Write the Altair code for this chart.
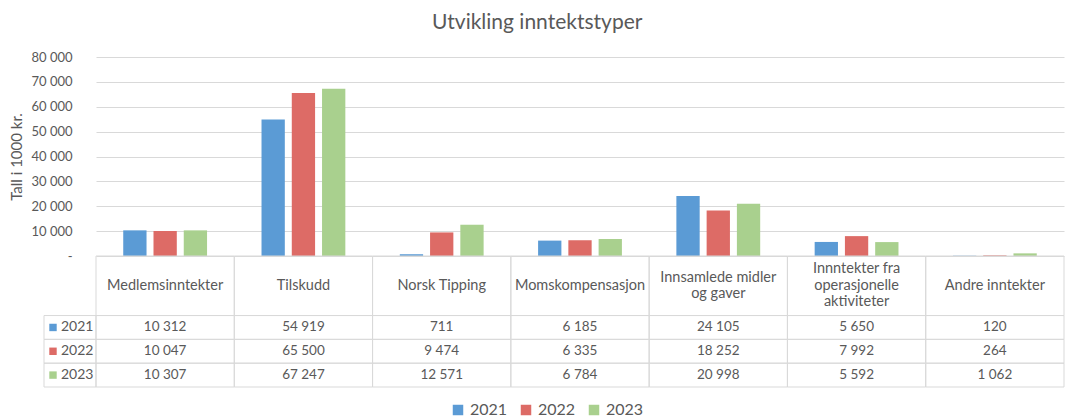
import altair as alt
import pandas as pd

categories = [
    "Medlemsinntekter",
    "Tilskudd",
    "Norsk Tipping",
    "Momskompensasjon",
    "Innsamlede midler\nog gaver",
    "Innntekter fra\noperasjonelle\naktiviteter",
    "Andre inntekter",
]
years = ["2021", "2022", "2023"]
v2021 = [10312, 54919, 711, 6185, 24105, 5650, 120]
v2022 = [10047, 65500, 9474, 6335, 18252, 7992, 264]
v2023 = [10307, 67247, 12571, 6784, 20998, 5592, 1062]
colors = ["#5B9BD5", "#DD6B66", "#A9D08E"]

y_ticks = [0, 10000, 20000, 30000, 40000, 50000, 60000, 70000, 80000]

W = 968
BAR_H = 199
TAB_H = 131
HEADER_UNITS = 2.5
TOTAL_UNITS = HEADER_UNITS + len(years)
LINE_H = 16.5
UNIT_PX = TAB_H / TOTAL_UNITS

series = {"2021": v2021, "2022": v2022, "2023": v2023}

rows = []
for yi, yr in enumerate(years):
    for ci, cat in enumerate(categories):
        rows.append({
            "cat": cat,
            "year": yr,
            "value": series[yr][ci],
            "r0": HEADER_UNITS + yi,
            "r1": HEADER_UNITS + yi + 1,
            "rmid": HEADER_UNITS + yi + 0.5,
        })
df = pd.DataFrame(rows)

# header cells; multi-line labels are shifted up so the block is centred
df_head = pd.DataFrame({
    "cat": categories,
    "r0": [0.0] * len(categories),
    "r1": [HEADER_UNITS] * len(categories),
    "rtxt": [HEADER_UNITS / 2 - (c.count("\n") / 2) * LINE_H / UNIT_PX
             for c in categories],
})
df_years = pd.DataFrame({
    "year": years,
    "r0": [HEADER_UNITS + i for i in range(len(years))],
    "r1": [HEADER_UNITS + i + 1 for i in range(len(years))],
    "rmid": [HEADER_UNITS + i + 0.5 for i in range(len(years))],
})

FONT = "Lato"
TXT = "#595959"
GRID = "#D9D9D9"

xenc = alt.X("cat:N", sort=categories,
             scale=alt.Scale(paddingInner=0, paddingOuter=0), axis=None)
color_scale = alt.Scale(domain=years, range=colors)
tscale = alt.Scale(domain=[0, TOTAL_UNITS], range=[BAR_H, BAR_H + TAB_H])

bars = alt.Chart(df).mark_bar().encode(
    x=xenc,
    xOffset=alt.XOffset("year:N", sort=years,
                        scale=alt.Scale(paddingInner=0.23, paddingOuter=0.9)),
    y=alt.Y("value:Q",
            scale=alt.Scale(domain=[0, 80000], range=[BAR_H, 0]),
            axis=alt.Axis(
                values=y_ticks,
                title="Tall i 1000 kr.",
                titleFont=FONT, titleFontSize=15, titleFontWeight="normal",
                titleColor=TXT, titlePadding=6,
                labelFont=FONT, labelFontSize=13, labelColor=TXT,
                labelPadding=24,
                labelExpr="datum.value == 0 ? '-' : replace(format(datum.value, ','), ',', ' ')",
                ticks=False, domain=False,
                grid=True, gridColor=GRID, gridWidth=1,
            )),
    color=alt.Color("year:N", scale=color_scale,
                    legend=alt.Legend(
                        title=None, orient="none", direction="horizontal",
                        legendX=W / 2 - 130, legendY=BAR_H + TAB_H + 15,
                        symbolType="square", symbolSize=110,
                        symbolStrokeWidth=0,
                        labelFont=FONT, labelFontSize=16, labelColor=TXT,
                        columnPadding=10, labelOffset=4)),
)

cells = alt.Chart(df).mark_rect(fill="transparent", stroke=GRID, strokeWidth=1).encode(
    x=xenc,
    y=alt.Y("r0:Q", scale=tscale, axis=None),
    y2="r1:Q",
)
head_cells = alt.Chart(df_head).mark_rect(fill="transparent", stroke=GRID, strokeWidth=1).encode(
    x=xenc,
    y=alt.Y("r0:Q", scale=tscale, axis=None),
    y2="r1:Q",
)
year_cells = alt.Chart(df_years).mark_rect(fill="transparent", stroke=GRID, strokeWidth=1).encode(
    x=alt.value(-52), x2=alt.value(0),
    y=alt.Y("r0:Q", scale=tscale, axis=None),
    y2="r1:Q",
)
year_sq = alt.Chart(df_years).mark_point(shape="square", filled=True, size=55, opacity=1).encode(
    x=alt.value(-43),
    y=alt.Y("rmid:Q", scale=tscale, axis=None),
    color=alt.Color("year:N", scale=color_scale),
)
year_txt = alt.Chart(df_years).mark_text(
    align="left", baseline="middle", font=FONT, fontSize=14, color=TXT
).encode(
    x=alt.value(-35),
    y=alt.Y("rmid:Q", scale=tscale, axis=None),
    text="year:N",
)
head_txt = alt.Chart(df_head).mark_text(
    align="center", baseline="middle", lineBreak="\n", lineHeight=LINE_H,
    font=FONT, fontSize=14.5, color=TXT
).encode(
    x=xenc,
    y=alt.Y("rtxt:Q", scale=tscale, axis=None),
    text="cat:N",
)
val_txt = alt.Chart(df).transform_calculate(
    label="replace(format(datum.value, ','), ',', ' ')"
).mark_text(
    align="center", baseline="middle", font=FONT, fontSize=13.5, color=TXT
).encode(
    x=xenc,
    y=alt.Y("rmid:Q", scale=tscale, axis=None),
    text="label:N",
)

chart = alt.layer(
    bars, cells, head_cells, year_cells, year_sq, year_txt, head_txt, val_txt
).resolve_scale(y="independent").properties(
    width=W,
    height=BAR_H + TAB_H,
    title=alt.TitleParams("Utvikling inntektstyper", font=FONT, fontSize=21,
                          fontWeight="normal", color=TXT, anchor="middle",
                          frame="bounds", offset=18),
    padding={"left": 1, "top": 4, "right": 2, "bottom": 2},
    background="white",
).configure_view(stroke=None)

chart.save("out.html", embed_options={"renderer": "svg", "actions": False})
